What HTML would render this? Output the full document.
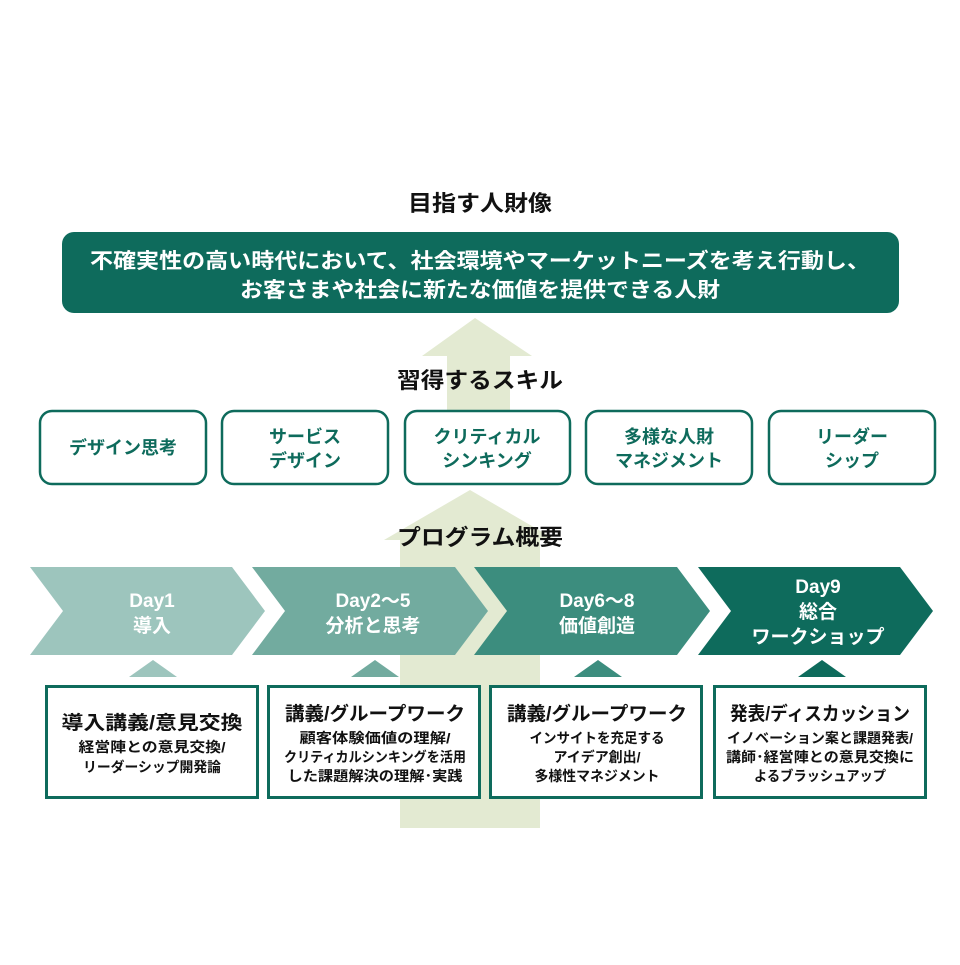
<!DOCTYPE html>
<html><head><meta charset="utf-8"><style>
body{margin:0;background:#fff;}
svg text{font-family:"Liberation Sans","Noto Sans CJK JP",sans-serif;font-weight:bold;}
</style></head><body>
<svg width="960" height="960" viewBox="0 0 960 960" xmlns="http://www.w3.org/2000/svg">
<rect width="960" height="960" fill="#fff"/>
<polygon points="475,318 532,356 510,356 510,412 447,412 447,356 422,356" fill="#e3ead2"/>
<polygon points="470,490 556,540 540,540 540,828 400,828 400,540 384,540" fill="#e3ead2"/>

<text x="480" y="211" font-size="22" text-anchor="middle" fill="#111" textLength="144" lengthAdjust="spacingAndGlyphs">目指す人財像</text>
<rect x="62" y="232" width="837" height="81" rx="12" fill="#0e6b5c"/>
<text x="480" y="268" font-size="21" text-anchor="middle" fill="#fff" textLength="780" lengthAdjust="spacingAndGlyphs">不確実性の高い時代において、社会環境やマーケットニーズを考え行動し、</text>
<text x="480" y="297" font-size="21" text-anchor="middle" fill="#fff" textLength="480" lengthAdjust="spacingAndGlyphs">お客さまや社会に新たな価値を提供できる人財</text>

<text x="480" y="388" font-size="22" text-anchor="middle" fill="#111" textLength="166" lengthAdjust="spacingAndGlyphs">習得するスキル</text>
<g fill="#fff" stroke="#0e6b5c" stroke-width="2.5">
<rect x="40" y="411" width="166" height="73" rx="12"/>
<rect x="222" y="411" width="166" height="73" rx="12"/>
<rect x="405" y="411" width="165" height="73" rx="12"/>
<rect x="586" y="411" width="166" height="73" rx="12"/>
<rect x="769" y="411" width="166" height="73" rx="12"/>
</g>
<g font-size="18" text-anchor="middle" fill="#0e6b5c">
<text x="123" y="454">デザイン思考</text>
<text x="305" y="443">サービス</text><text x="305" y="467">デザイン</text>
<text x="487" y="443">クリティカル</text><text x="487" y="467">シンキング</text>
<text x="669" y="443">多様な人財</text><text x="669" y="467">マネジメント</text>
<text x="852" y="443">リーダー</text><text x="852" y="467">シップ</text>
</g>

<text x="480" y="545" font-size="22" text-anchor="middle" fill="#111" textLength="166" lengthAdjust="spacingAndGlyphs">プログラム概要</text>

<polygon points="30,567 232,567 265,611 232,655 30,655 63,611" fill="#9dc5bd"/>
<polygon points="252,567 455,567 488,611 455,655 252,655 285,611" fill="#72ab9f"/>
<polygon points="474,567 677,567 710,611 677,655 474,655 507,611" fill="#3c8d7e"/>
<polygon points="698,567 900,567 933,611 900,655 698,655 731,611" fill="#0e6b5c"/>
<g font-size="19" text-anchor="middle" fill="#fff">
<text x="152" y="607">Day1</text><text x="152" y="632">導入</text>
<text x="373" y="607">Day2～5</text><text x="373" y="632">分析と思考</text>
<text x="597" y="607">Day6～8</text><text x="597" y="632">価値創造</text>
<text x="818" y="593">Day9</text><text x="818" y="618">総合</text><text x="818" y="643">ワークショップ</text>
</g>
<polygon points="153,660 177,677 129,677" fill="#9dc5bd"/>
<polygon points="375,660 399,677 351,677" fill="#72ab9f"/>
<polygon points="598,660 622,677 574,677" fill="#3c8d7e"/>
<polygon points="822,660 846,677 798,677" fill="#0e6b5c"/>

<g fill="#fff" stroke="#0e6b5c" stroke-width="3">
<rect x="46.5" y="686.5" width="211" height="111"/>
<rect x="268.5" y="686.5" width="211" height="111"/>
<rect x="490.5" y="686.5" width="211" height="111"/>
<rect x="714.5" y="686.5" width="211" height="111"/>
</g>
<g text-anchor="middle" fill="#111" lengthAdjust="spacingAndGlyphs">
<text x="152" y="729" font-size="19" textLength="181" lengthAdjust="spacingAndGlyphs">導入講義/意見交換</text>
<text x="152" y="752" font-size="14" textLength="147" lengthAdjust="spacingAndGlyphs">経営陣との意見交換/</text>
<text x="152" y="772" font-size="14" textLength="138" lengthAdjust="spacingAndGlyphs">リーダーシップ開発論</text>
<text x="375" y="720" font-size="19" textLength="180" lengthAdjust="spacingAndGlyphs">講義/グループワーク</text>
<text x="375" y="743" font-size="14" textLength="151" lengthAdjust="spacingAndGlyphs">顧客体験価値の理解/</text>
<text x="375" y="762" font-size="14" textLength="182" lengthAdjust="spacingAndGlyphs">クリティカルシンキングを活用</text>
<text x="375" y="781" font-size="14" textLength="175" lengthAdjust="spacingAndGlyphs">した課題解決の理解･実践</text>
<text x="597" y="720" font-size="19" textLength="180" lengthAdjust="spacingAndGlyphs">講義/グループワーク</text>
<text x="597" y="743" font-size="14" textLength="135" lengthAdjust="spacingAndGlyphs">インサイトを充足する</text>
<text x="597" y="762" font-size="14" textLength="87" lengthAdjust="spacingAndGlyphs">アイデア創出/</text>
<text x="597" y="781" font-size="14" textLength="125" lengthAdjust="spacingAndGlyphs">多様性マネジメント</text>
<text x="820" y="720" font-size="19" textLength="180" lengthAdjust="spacingAndGlyphs">発表/ディスカッション</text>
<text x="820" y="743" font-size="14" textLength="186" lengthAdjust="spacingAndGlyphs">イノベーション案と課題発表/</text>
<text x="820" y="762" font-size="14" textLength="188" lengthAdjust="spacingAndGlyphs">講師･経営陣との意見交換に</text>
<text x="820" y="781" font-size="14" textLength="132" lengthAdjust="spacingAndGlyphs">よるブラッシュアップ</text>
</g>
</svg>
</body></html>
